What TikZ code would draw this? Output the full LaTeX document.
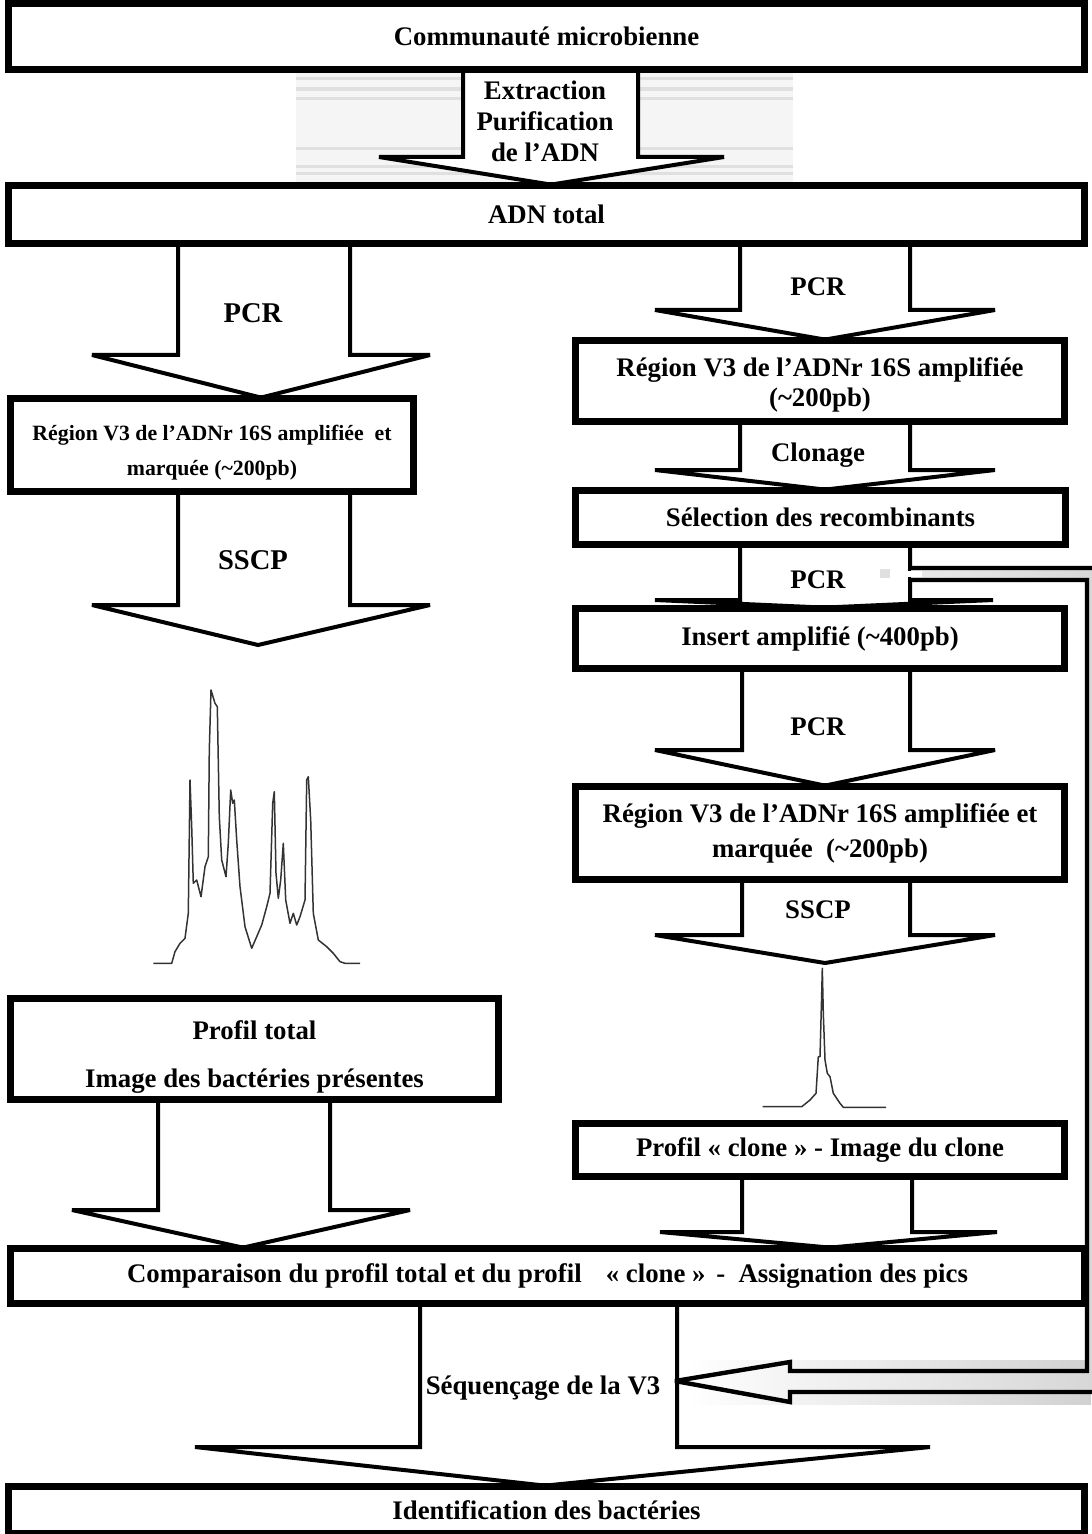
\documentclass[tikz,border=0pt]{standalone}
\usepackage{fontspec}
\setmainfont{Liberation Serif}
\newcommand\lbl{\fontsize{13.4}{16}\selectfont\bfseries}
% hollow block arrow: #1 upper anchor, #2 tip, #3/#4 shaft x, #5 wing y, #6/#7 wing x
\newcommand\blockarrow[7]{%
  \draw[arrowshape] (#3,0 |- #1) -- (#3,#5) -- (#6,#5) -- (#2) -- (#7,#5) -- (#4,#5) -- (#4,0 |- #1);
}
\begin{document}
\begin{tikzpicture}[x=0.5pt,y=-0.5pt,
  box/.style={draw, line width=2.4pt, fill=white, inner sep=0pt, align=center,
    font=\lbl},
  arrowshape/.style={draw, line width=2pt, fill=white, line join=miter, miter limit=2},
  steplabel/.style={font=\lbl, align=center, inner sep=0pt},
  biglabel/.style={steplabel, font=\fontsize{14.3}{17}\selectfont\bfseries},
  trace/.style={draw=black!80, line width=0.75pt, line join=round}]
\useasboundingbox (0,0) rectangle (1091,1534);

% striped backdrop behind the extraction arrow
\fill[black!4] (296,70) rectangle (793,185);
\foreach \ya/\yb in {77/80, 87/91, 97/100, 147/150, 165/168, 172/175, 182/185}
  \fill[black!12] (296,\ya) rectangle (793,\yb);

% boxes (drawn as named nodes; arrows refer to their anchors)
\path
  (546.5,36.5)  node[box, minimum width=536.5pt, minimum height=31.5pt] (comm) {Communauté microbienne}
  (546.5,214.5) node[box, minimum width=536.5pt, minimum height=27.5pt] (adn) {ADN total}
  (212,445)     node[box, minimum width=200pt, minimum height=45pt, font=\fontsize{10.9}{17.5}\selectfont\bfseries] (regL)
      {\rule{0pt}{15.8pt}Région V3 de l’ADNr 16S amplifiée\hspace{0.5em}et\\marquée (\textasciitilde200pb)}
  (820,381)     node[box, minimum width=243pt, minimum height=39pt, font=\fontsize{13.4}{15}\selectfont\bfseries] (regR)
      {\rule{0pt}{13.2pt}Région V3 de l’ADNr 16S amplifiée\\(\textasciitilde200pb)}
  (820.5,517.5) node[box, minimum width=243.5pt, minimum height=25.5pt] (sel) {Sélection des recombinants}
  (820,638.5)   node[box, minimum width=243pt, minimum height=28.5pt] (ins) {Insert amplifié (\textasciitilde400pb)}
  (820,833)     node[box, minimum width=243pt, minimum height=45pt, font=\fontsize{13.4}{17.5}\selectfont\bfseries] (regM)
      {Région V3 de l’ADNr 16S amplifiée et\\marquée\hspace{0.5em}(\textasciitilde200pb)}
  (254.5,1049)  node[box, minimum width=242.5pt, minimum height=49pt, font=\fontsize{13.4}{24}\selectfont\bfseries] (ptot)
      {\rule{0pt}{17pt}Profil total\\Image des bactéries présentes}
  (820,1150)    node[box, minimum width=243pt, minimum height=25pt] (pclo) {Profil « clone » - Image du clone}
  (547.5,1276)  node[box, minimum width=535.5pt, minimum height=26pt] (comp)
      {Comparaison du profil total et du profil\hspace{0.9em}« clone »\hspace{0.4em}-\hspace{0.5em}Assignation des pics}
  (546.5,1510)  node[box, minimum width=536.5pt, minimum height=22pt] (ident) {Identification des bactéries};

% tips of the SSCP arrows, which point at the profiles
\coordinate (tipL) at (258,645);
\coordinate (tipR) at (825,963);

% block arrows between the steps
\blockarrow{comm.south}{551,0 |- adn.north}{463}{638}{157}{379}{724}
\blockarrow{adn.south}{261,0 |- regL.north}{178}{350}{355}{92}{430}
\blockarrow{adn.south}{825,0 |- regR.north}{740}{910}{310}{655}{995}
\blockarrow{regR.south}{825,0 |- sel.north}{740}{910}{470}{655}{995}
\blockarrow{sel.south}{824,0 |- ins.north}{740}{910}{600}{655}{993}
\blockarrow{ins.south}{825,0 |- regM.north}{742}{910}{750}{655}{995}
\blockarrow{regL.south}{tipL}{178}{350}{605}{92}{430}
\blockarrow{regM.south}{tipR}{742}{910}{935}{655}{995}
\blockarrow{ptot.south}{243,0 |- comp.north}{158}{330}{1210}{72}{410}
\blockarrow{pclo.south}{830,0 |- comp.north}{742}{912}{1232}{660}{997}
\blockarrow{comp.south}{545,0 |- ident.north}{420}{677}{1447}{195}{930}

% boxes again on top so their borders cover the arrow ends
\foreach \n in {comm,adn,regL,regR,sel,ins,regM,ptot,pclo,comp,ident}
  \draw[line width=2.4pt] (\n.north west) rectangle (\n.south east);

% arrow labels
\node[steplabel, font=\fontsize{13.4}{15.5}\selectfont\bfseries] (lext) at (545,121) {Extraction\\Purification\\de l’ADN};
\node[biglabel] (lpcr1) at (253,313) {PCR};
\node[steplabel] (lpcr2) at (818,287) {PCR};
\node[steplabel] (lclo) at (818,455) {Clonage};
\node[steplabel] (lpcr3) at (818,580) {PCR};
\node[steplabel] (lpcr4) at (818,727) {PCR};
\node[biglabel] (lsscp1) at (253,560) {SSCP};
\node[steplabel] (lsscp2) at (818,910) {SSCP};
\node[steplabel] (lseq) at (543,1388) {Séquençage de la V3};

% feedback arrow from the recombinants to the sequencing step
\fill[left color=white, right color=black!18] (687,1360) rectangle (1091,1404);
\draw[line width=2.2pt, left color=white, right color=black!16, line join=miter, miter limit=3]
  (911,568) -- (1100,568) -- (1100,1392) -- (790,1392) -- (790,1402) -- (675,1381)
  -- (790,1362) -- (790,1371) -- (1087,1371) -- (1087,580) -- (911,580);
\fill[white] (904,570.6) rectangle (922,577.4);
\fill[black!12] (880,569) rectangle (890,578);

% SSCP profile of the whole community
\draw[trace] plot coordinates {
 (153.3,963.3) (171.7,963.3) (175,951.7) (180,943.3) (185,938.3) (188.3,913.3)
 (190,780) (191.7,826.7) (193.3,883.3) (196.7,880) (201,896.7) (205,866.7)
 (208.3,856.7) (209.3,750) (211,690) (215,703.3) (217.3,706.7) (219.3,816.7)
 (221.7,860) (226,876.7) (228.3,843.3) (230.7,790) (232.7,803.3) (234.3,800)
 (236.7,840) (240,886.7) (245,926.7) (251.7,948.3) (256.7,936.7) (261.7,925)
 (266.7,906.7) (270,893.3) (272.7,803.3) (274.3,791.7) (276,873.3) (278.3,898.3)
 (280.7,880) (283.3,843.3) (285.7,900) (290,923.3) (293.3,913.3) (296.7,925)
 (300,916.7) (305,900) (306.7,780) (308.3,776.7) (310.7,820) (313.3,913.3)
 (318.3,940) (326.7,946.7) (333.3,953.3) (340,961.7) (345,963.3) (360,963.3)};

% SSCP profile of a single clone
\draw[trace] plot coordinates {
 (762.7,1106.7) (801.7,1106.7) (810,1100) (816,1093.3) (818.3,1056.7) (820,1056.7)
 (821.7,993.3) (822.3,968.3) (823.3,1013.3) (825,1060) (827.3,1073.3) (830,1076.7)
 (833.3,1093.3) (840,1103.3) (843.3,1107.3) (886,1107.3)};
\end{tikzpicture}
\end{document}
